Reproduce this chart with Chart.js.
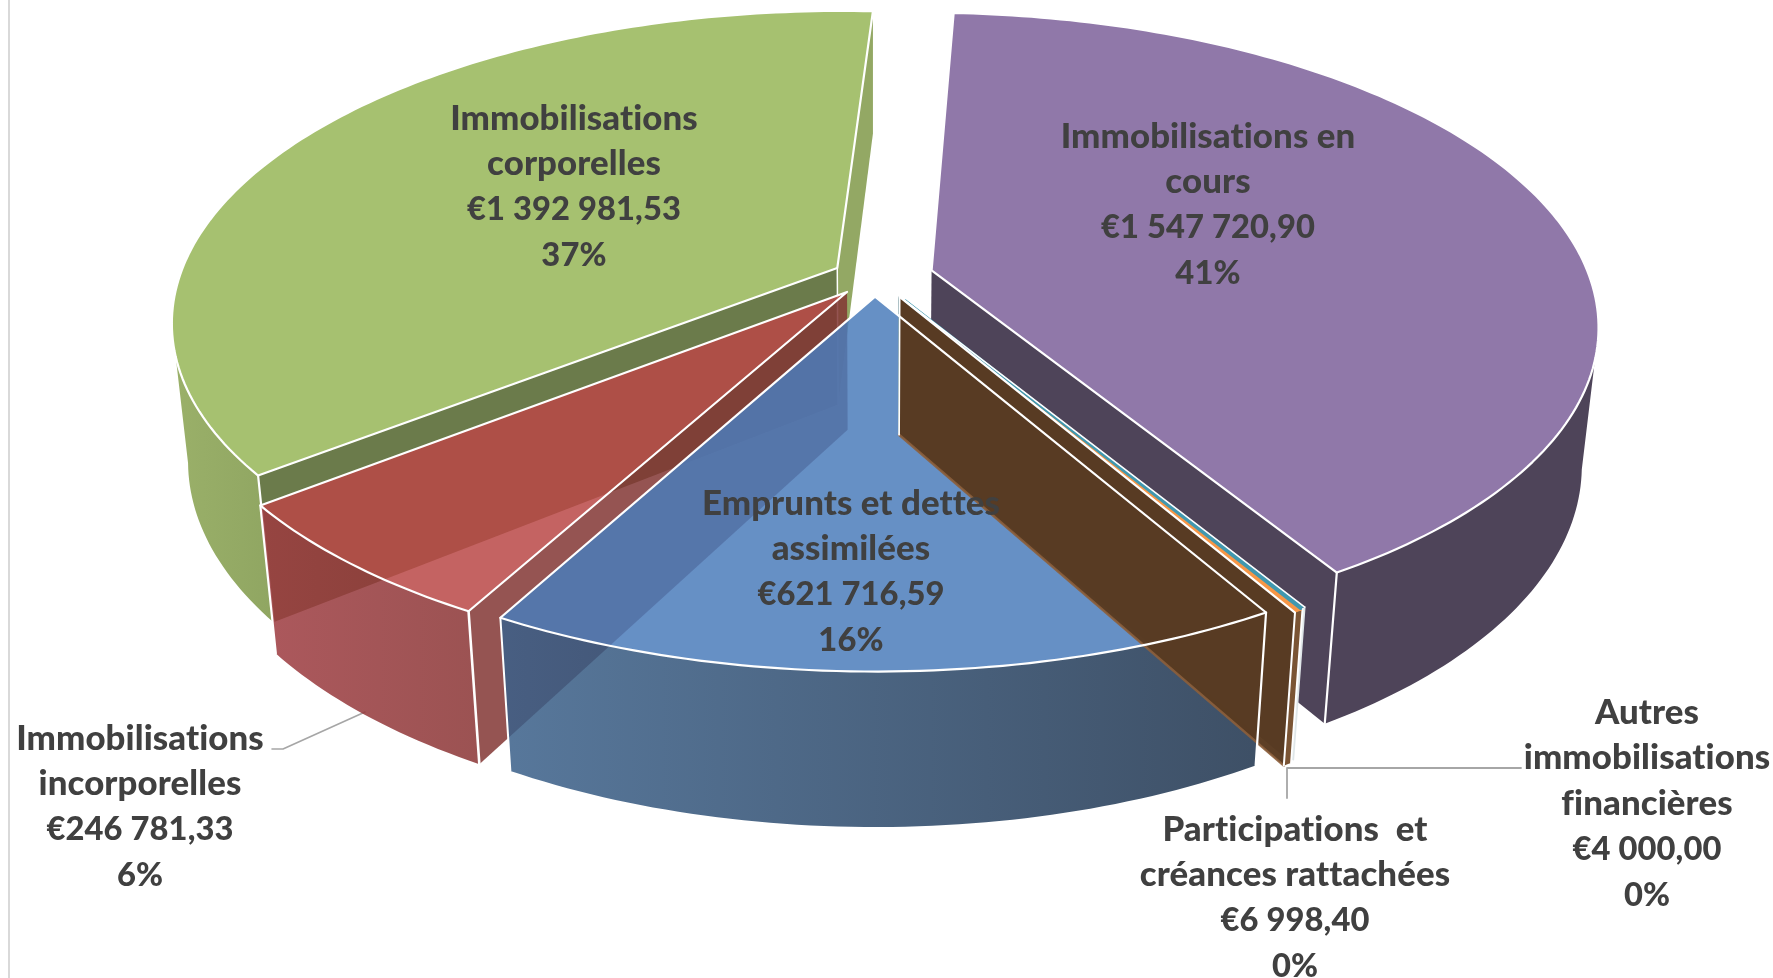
<!DOCTYPE html>
<html lang="fr">
<head>
<meta charset="utf-8">
<title>Immobilisations</title>
<script src="https://cdn.jsdelivr.net/npm/chart.js@4"></script>
<style>html,body{margin:0;padding:0;background:#fff}canvas{display:block}</style>
</head>
<body>
<canvas id="c" width="1773" height="978"></canvas>
<script>
const categories = [
  'Immobilisations en cours',
  'Autres immobilisations financières',
  'Participations  et créances rattachées',
  'Emprunts et dettes assimilées',
  'Immobilisations incorporelles',
  'Immobilisations corporelles'
];
const values = [1547720.90, 4000.00, 6998.40, 621716.59, 246781.33, 1392981.53];
const valueLabels = ['€1 547 720,90', '€4 000,00', '€6 998,40', '€621 716,59', '€246 781,33', '€1 392 981,53'];
const percentLabels = ['41%', '0%', '0%', '16%', '6%', '37%'];
const nameLines = [
  ['Immobilisations en', 'cours'],
  ['Autres', 'immobilisations', 'financières'],
  ['Participations  et', 'créances rattachées'],
  ['Emprunts et dettes', 'assimilées'],
  ['Immobilisations', 'incorporelles'],
  ['Immobilisations', 'corporelles']
];
const explode = [42, 33, 35, 30, 30, 30];
const firstAngle = 3.1;

// Label anchors (centre x, first-line y) and line spacing
const labelX = [1208, 1647, 1295, 851, 140, 574];
const labelY = [136, 712, 829, 503, 738, 118];
const lineGap = 45.6;

// Camera used to project the pie's arcs to a tilted 3D disc
const CAM = {cx: 874.5, cy: 277, rx: 658, ry: 303.7, k: 0.17, h: 140, m: 0.023};

const ALPHA = 0.85;
const PURPLE = 0, TEAL = 1, ORANGE = 2, BLUE = 3, RED = 4, GREEN = 5;

function project(arc, th, r, depth) {
  const e = (arc.options.offset || 0) / arc.outerRadius;
  const mid = (arc.startAngle + arc.endAngle) / 2 + Math.PI / 2;
  const u = e * Math.sin(mid) + r * Math.sin(th);
  const v = e * Math.cos(mid) + r * Math.cos(th);
  const w = 1 + CAM.k * v + CAM.m * depth;
  return {x: CAM.cx + CAM.rx * u / w, y: CAM.cy + (-CAM.ry * v + CAM.h * depth) / w};
}
function trace(ctx, pts, close) {
  ctx.beginPath();
  pts.forEach((p, i) => i ? ctx.lineTo(p.x, p.y) : ctx.moveTo(p.x, p.y));
  if (close) ctx.closePath();
}
function fillPoly(ctx, pts, fill, alpha) {
  ctx.save();
  ctx.globalAlpha = alpha === undefined ? 1 : alpha;
  trace(ctx, pts, true);
  ctx.fillStyle = fill;
  ctx.fill();
  ctx.restore();
}
function line(ctx, pts, color, width) {
  trace(ctx, pts, false);
  ctx.strokeStyle = color;
  ctx.lineWidth = width;
  ctx.lineJoin = 'round';
  ctx.lineCap = 'round';
  ctx.stroke();
}
function sampleArc(arc, from, to, depth) {
  const out = [], n = Math.max(2, Math.ceil(Math.abs(to - from) / (Math.PI / 180)));
  for (let i = 0; i <= n; i++) out.push(project(arc, from + (to - from) * i / n, 1, depth));
  return out;
}
function geom(arc) {
  const a0 = arc.startAngle + Math.PI / 2, a1 = arc.endAngle + Math.PI / 2;
  return {
    a0, a1,
    top: [project(arc, a0, 0, 0)].concat(sampleArc(arc, a0, a1, 0)),
    outerTop: sampleArc(arc, a0, a1, 0),
    outerBot: sampleArc(arc, a0, a1, 1)
  };
}
// inner radial wall on the edge at angle a
function radialWall(arc, a) {
  return [project(arc, a, 0, 0), project(arc, a, 1, 0), project(arc, a, 1, 1), project(arc, a, 0, 1)];
}
function outerWall(g) {
  return g.outerTop.concat(g.outerBot.slice().reverse());
}
// only the viewer-facing part of the rim, from/to the silhouette point of the disc
function facingWall(g, side) {
  let idx = 0;
  g.outerTop.forEach((p, i) => {
    if (side > 0 ? p.x > g.outerTop[idx].x : p.x < g.outerTop[idx].x) idx = i;
  });
  const t = side > 0 ? g.outerTop.slice(idx) : g.outerTop.slice(0, idx + 1);
  const b = side > 0 ? g.outerBot.slice(idx) : g.outerBot.slice(0, idx + 1);
  return t.concat(b.reverse());
}
function hGrad(ctx, x0, x1, c0, c1) {
  const gr = ctx.createLinearGradient(x0, 0, x1, 0);
  gr.addColorStop(0, c0); gr.addColorStop(1, c1);
  return gr;
}
function vertical(ctx, arc, a, w, color) {
  line(ctx, [project(arc, a, 1, 0), project(arc, a, 1, 1)], color || '#ffffff', w || 2.2);
}
function outline(ctx, pts) {
  trace(ctx, pts, true);
  ctx.strokeStyle = '#ffffff'; ctx.lineWidth = 2.2; ctx.lineJoin = 'round';
  ctx.stroke();
}

const pie3d = {
  id: 'pie3d',
  beforeDatasetsDraw(chart) {
    const ctx = chart.ctx;
    const arcs = chart.getDatasetMeta(0).data;
    const W = '#ffffff';
    const grey = '#a6a6a6';

    // frame line on the left
    line(ctx, [{x: 9, y: 0}, {x: 9, y: 978}], '#d9d9d9', 2);

    // leader lines
    line(ctx, [{x: 272, y: 749}, {x: 283, y: 749}, {x: 365, y: 712}], grey, 1.6);
    line(ctx, [{x: 1521, y: 768}, {x: 1287, y: 768}, {x: 1287, y: 798}], grey, 1.8);

    // GREEN
    let a = arcs[GREEN], g = geom(a);
    fillPoly(ctx, facingWall(g, -1), hGrad(ctx, 175, 270, '#9ab069', '#90a662'));
    fillPoly(ctx, radialWall(a, g.a1), '#93a864');
    fillPoly(ctx, radialWall(a, g.a0), '#6b7b4b');
    vertical(ctx, a, g.a0);
    line(ctx, [project(a, g.a1, 0, 0), project(a, g.a1, 0, 1)], W, 1.5);
    fillPoly(ctx, g.top, '#a6c170');
    outline(ctx, g.top);

    // PURPLE
    a = arcs[PURPLE]; g = geom(a);
    fillPoly(ctx, facingWall(g, 1), '#4e4459');
    fillPoly(ctx, radialWall(a, g.a1), '#4e4459');
    vertical(ctx, a, g.a1);
    fillPoly(ctx, g.top, '#9078a9');
    outline(ctx, g.top);

    // RED
    a = arcs[RED]; g = geom(a);
    fillPoly(ctx, radialWall(a, g.a0), 'rgb(131,54,52)', ALPHA);
    fillPoly(ctx, outerWall(g), hGrad(ctx, 260, 480, 'rgb(158,59,64)', 'rgb(138,52,52)'), ALPHA);
    vertical(ctx, a, g.a0, 2.6);
    vertical(ctx, a, g.a1);
    fillPoly(ctx, g.top, 'rgb(186,72,70)', ALPHA);
    outline(ctx, g.top);

    // BLUE fills
    a = arcs[BLUE]; const gb = geom(a);
    fillPoly(ctx, outerWall(gb), hGrad(ctx, 500, 1260, 'rgb(58,96,138)', 'rgb(28,49,75)'), ALPHA);
    fillPoly(ctx, gb.top, 'rgb(75,125,187)', ALPHA);

    // TEAL
    const at = arcs[TEAL], gt = geom(at);
    fillPoly(ctx, radialWall(at, gt.a1), '#1f5560');
    fillPoly(ctx, outerWall(gt), '#f2f5f6');
    vertical(ctx, at, gt.a0, 1.6, '#dfe6e8');

    // ORANGE (its end wall is the large brown face)
    a = arcs[ORANGE]; g = geom(a);
    const wall = radialWall(a, g.a1);
    fillPoly(ctx, outerWall(g), '#7a5434');
    fillPoly(ctx, wall, '#5a3b22', 0.98);
    line(ctx, [wall[3], wall[2]], 'rgba(140,95,60,0.9)', 2.5);
    line(ctx, [wall[0], wall[3]], W, 1.8);
    vertical(ctx, a, g.a1, 2);
    vertical(ctx, a, g.a0, 1.6);
    fillPoly(ctx, g.top, '#f79646');
    fillPoly(ctx, gt.top, '#4198af');
    // the thin sector keeps only a hairline of orange next to the teal one
    line(ctx, [project(at, gt.a1, 0.02, 0), project(at, gt.a1, 1, 0)], '#4198af', 3);
    line(ctx, [project(at, gt.a0, 0, 0), project(at, gt.a0, 1, 0)], W, 1.6);
    line(ctx, [project(a, g.a1, 0, 0), project(a, g.a1, 1, 0)], W, 2.2);

    // BLUE strokes sit above the brown face
    a = arcs[BLUE];
    outline(ctx, gb.top);
    vertical(ctx, a, gb.a0);
    vertical(ctx, a, gb.a1, 2);

    return false;
  },
  afterDraw(chart) {
    const ctx = chart.ctx;
    ctx.save();
    ctx.fillStyle = '#404040';
    ctx.textAlign = 'center';
    ctx.textBaseline = 'middle';
    ctx.letterSpacing = '0.1px';
    categories.forEach((c, i) => {
      const names = nameLines[i].length;
      const lines = nameLines[i].concat([valueLabels[i], percentLabels[i]]);
      lines.forEach((t, j) => {
        ctx.font = (j < names ? '900 34.8px' : '900 32.7px') + ' Lato, "Open Sans", sans-serif';
        ctx.fillText(t, labelX[i], labelY[i] + 0.6 + j * lineGap);
      });
    });
    ctx.restore();
  }
};

new Chart(document.getElementById('c'), {
  type: 'pie',
  data: {
    labels: categories,
    datasets: [{
      data: values,
      offset: explode,
      borderWidth: 0,
      backgroundColor: ['#9078a9', '#4198af', '#f79646', '#6690c5', '#c46361', '#a6c170']
    }]
  },
  options: {
    responsive: false,
    animation: false,
    rotation: firstAngle,
    plugins: {legend: {display: false}, tooltip: {enabled: false}}
  },
  plugins: [pie3d]
});
</script>
</body>
</html>
